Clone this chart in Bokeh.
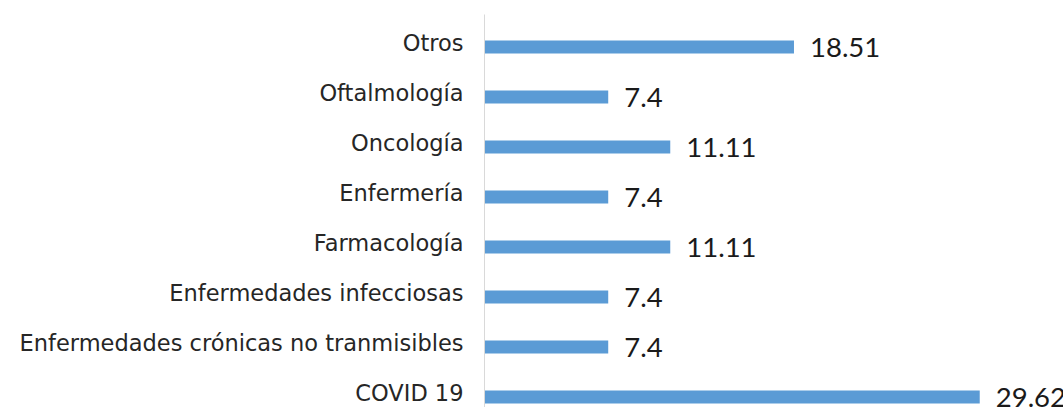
from bokeh.plotting import figure
from bokeh.models import ColumnDataSource, FixedTicker, Range1d
from bokeh.core.properties import value
from bokeh.embed import file_html
from bokeh.resources import INLINE

categories = ["Otros", "Oftalmología", "Oncología", "Enfermería", "Farmacología",
              "Enfermedades infecciosas", "Enfermedades crónicas no tranmisibles", "COVID 19"]
values = [18.51, 7.4, 11.11, 7.4, 11.11, 7.4, 7.4, 29.62]
value_labels = ["18.51", "7.4", "11.11", "7.4", "11.11", "7.4", "7.4", "29.62"]

n = len(categories)
ypos = [n - 1 - i for i in range(n)]
src = ColumnDataSource(dict(y=ypos, v=values, lab=value_labels, cat=categories))

p = figure(width=1063, height=407, output_backend="svg", toolbar_location=None,
           x_range=Range1d(0, 34.63), y_range=Range1d(-0.21, 7.65),
           min_border_left=484, min_border_right=0, min_border_top=14, min_border_bottom=0)

p.hbar(y="y", right="v", left=0, height=0.26, source=src, color="#5b9bd5", line_color=None)
p.text(x="v", y="y", text="lab", source=src, x_offset=16, y_offset=0,
       text_baseline="middle", text_align="left", text_font=value("Lato"),
       text_font_size="27.5px", text_color="#1a1a1a")

p.xaxis.visible = False
p.xgrid.visible = False
p.ygrid.visible = False
p.outline_line_color = None

# label positions sit slightly above the bar centres, as in the reference
label_ticks = [y + 0.09 for y in ypos]
ax = p.yaxis[0]
ax.ticker = FixedTicker(ticks=label_ticks)
ax.major_label_overrides = {t: c for t, c in zip(label_ticks, categories)}
ax.major_tick_line_color = None
ax.minor_tick_line_color = None
ax.major_tick_out = 0
ax.major_tick_in = 0
ax.axis_line_color = "#d9d9d9"
ax.axis_line_width = 1
ax.major_label_standoff = 21
ax.major_label_text_font = "DejaVu Sans"
ax.major_label_text_font_size = "22.5px"
ax.major_label_text_color = "#262626"

open("out.html", "w").write(file_html(p, INLINE))
